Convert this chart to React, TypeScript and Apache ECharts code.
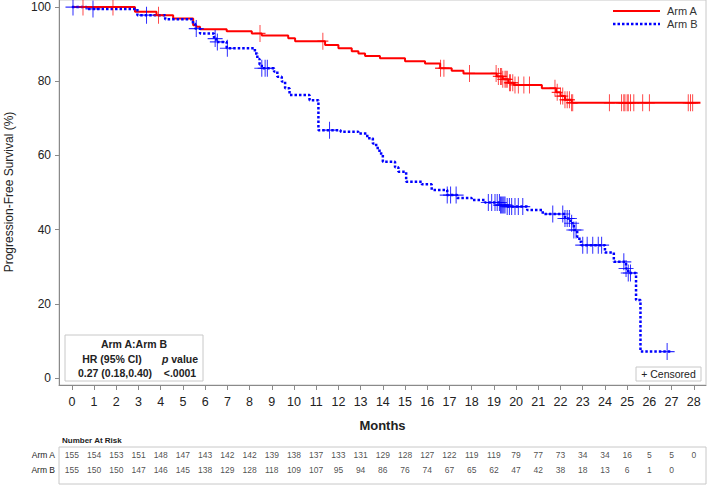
import React, { useEffect, useRef } from "react";
import * as echarts from "echarts";

const monthTicks = [0, 1, 2, 3, 4, 5, 6, 7, 8, 9, 10, 11, 12, 13, 14, 15, 16, 17, 18, 19, 20, 21, 22, 23, 24, 25, 26, 27, 28];
const survivalTicks = [0, 20, 40, 60, 80, 100];

// [month, survival %] — value holds from month until the next change
const armASteps: [number, number][] = [
  [0, 100], [2.84, 98.7], [3.81, 97.8], [4.56, 96.9], [5.46, 95.1], [5.6, 94.7], [5.77, 94.0],
  [6.97, 93.5], [8.1, 92.9], [8.55, 92.3], [9.74, 91.6], [10.05, 90.8], [11.4, 89.8], [12.0, 88.9],
  [12.6, 88.1], [12.9, 87.5], [13.2, 86.8], [13.87, 86.2], [15.0, 85.4], [15.9, 84.8], [16.58, 83.5],
  [17.1, 82.8], [17.63, 82.1], [19.13, 81.3], [19.4, 80.5], [19.65, 79.6], [19.9, 79.0], [21.16, 78.1],
  [21.8, 77.0], [22.0, 76.0], [22.2, 75.0], [22.5, 74.2], [28.3, 74.2],
];
const armBSteps: [number, number][] = [
  [0, 100], [0.66, 99.5], [2.95, 97.8], [4.2, 96.7], [5.45, 95.5], [5.55, 94.2], [5.77, 92.9],
  [6.4, 91.5], [6.5, 90.6], [6.97, 88.9], [8.24, 87.5], [8.35, 86.0], [8.45, 84.5], [8.55, 83.5],
  [9.1, 82.6], [9.25, 81.2], [9.45, 79.9], [9.6, 78.1], [9.8, 76.3], [10.7, 74.9], [11.1, 66.8],
  [12.1, 66.4], [12.9, 65.9], [13.3, 64.6], [13.55, 63.2], [13.7, 62.0], [13.85, 60.5], [14.0, 58.3],
  [14.55, 56.8], [14.7, 55.6], [15.05, 52.9], [15.75, 52.2], [16.2, 50.7], [16.9, 49.3], [17.35, 48.5],
  [18.0, 48.0], [18.6, 47.3], [19.3, 46.6], [19.6, 46.2], [20.5, 45.3], [21.2, 44.2], [22.2, 43.0],
  [22.45, 41.7], [22.6, 39.9], [22.75, 38.1], [22.85, 36.7], [22.95, 35.8], [24.0, 33.8], [24.4, 31.3],
  [24.95, 29.5], [25.05, 28.3], [25.4, 21.0], [25.6, 7.1], [27.0, 7.1],
];

const armACensored = [
  0.5, 1.85, 3.9, 8.47, 11.3, 16.6, 16.75, 17.9, 19.1, 19.2, 19.3, 19.35, 19.4, 19.5, 19.55, 19.6,
  19.7, 19.75, 19.85, 19.95, 20.1, 20.35, 20.6, 21.75, 21.85, 22.0, 22.1, 22.2, 22.3, 22.4, 22.5,
  22.55, 24.2, 24.75, 24.85, 24.9, 25.0, 25.05, 25.15, 25.3, 25.7, 26.0, 27.75, 27.85, 27.95,
];
const armBCensored = [
  0.05, 0.95, 3.36, 5.6, 6.45, 6.55, 7.0, 8.55, 8.7, 8.8, 11.6, 16.9, 17.05, 17.3, 18.75, 18.9,
  19.05, 19.15, 19.25, 19.3, 19.35, 19.4, 19.45, 19.5, 19.6, 19.7, 19.8, 19.95, 20.1, 20.3, 21.65,
  22.1, 22.2, 22.3, 22.4, 22.5, 22.6, 22.7, 23.0, 23.2, 23.45, 23.7, 23.85, 24.85, 24.95, 25.05,
  25.15, 26.8,
];

const armARisk = [155, 154, 153, 151, 148, 147, 143, 142, 142, 139, 138, 137, 133, 131, 129, 128, 127, 122, 119, 119, 79, 77, 73, 34, 34, 16, 5, 5, 0];
const armBRisk = [155, 150, 150, 147, 146, 145, 138, 129, 128, 118, 109, 107, 95, 94, 86, 76, 74, 67, 65, 62, 47, 42, 38, 18, 13, 6, 1, 0];

const FONT = "Liberation Sans, Arial, sans-serif";
const RED = "#ff0000";
const BLUE = "#0000ff";

function valueAt(steps: [number, number][], t: number): number {
  let v = steps[0][1];
  for (const [m, s] of steps) {
    if (m <= t + 1e-9) v = s;
    else break;
  }
  return v;
}

export default function App() {
  const ref = useRef<HTMLDivElement>(null);
  useEffect(() => {
    if (!ref.current) return;
    const chart = echarts.init(ref.current, undefined, { renderer: "svg" });
    const crossSymbol = "path://M6,0L6,14M0,7L12,7";
    const option: any = {
      animation: false,
      grid: [
        { left: 59, right: 3, top: 0, height: 385, show: true, borderColor: "#c8c8c8", borderWidth: 1 },
        { left: 59, right: 3, top: 447, height: 31 },
      ],
      xAxis: [
        {
          type: "value",
          gridIndex: 0,
          min: -0.58,
          max: 28.55,
          axisLine: { show: true, onZero: false, lineStyle: { color: "#8a8a8a" } },
          axisTick: { show: true, customValues: monthTicks, length: 5, lineStyle: { color: "#8a8a8a" } },
          axisLabel: { customValues: monthTicks, fontSize: 12.5, color: "#222", margin: 10, fontFamily: FONT },
          splitLine: { show: false },
          name: "Months",
          nameLocation: "middle",
          nameGap: 34,
          nameTextStyle: { fontWeight: "bold", fontSize: 13, color: "#222", fontFamily: FONT },
        },
        { type: "value", gridIndex: 1, min: -0.58, max: 28.55, show: false },
      ],
      yAxis: [
        {
          type: "value",
          gridIndex: 0,
          min: -1.9,
          max: 101.9,
          axisLine: { show: true, onZero: false, lineStyle: { color: "#8a8a8a" } },
          axisTick: { show: true, customValues: survivalTicks, length: 4, lineStyle: { color: "#8a8a8a" } },
          axisLabel: { customValues: survivalTicks, fontSize: 12, color: "#222", margin: 8, fontFamily: FONT },
          splitLine: { show: false },
        },
        {
          type: "category",
          gridIndex: 1,
          data: ["Arm A", "Arm B"],
          inverse: true,
          axisLine: { show: false },
          axisTick: { show: false },
          axisLabel: { fontSize: 8.5, color: "#222", margin: 4, fontFamily: FONT },
        },
      ],
      series: [
        {
          type: "line",
          name: "Arm A",
          xAxisIndex: 0,
          yAxisIndex: 0,
          step: "end",
          symbol: "none",
          data: armASteps,
          lineStyle: { color: RED, width: 2 },
          z: 3,
          silent: true,
        },
        {
          type: "line",
          name: "Arm B",
          xAxisIndex: 0,
          yAxisIndex: 0,
          step: "end",
          symbol: "none",
          data: armBSteps,
          lineStyle: { color: BLUE, width: 2.5, type: [2.5, 2] },
          z: 3,
          silent: true,
        },
        {
          type: "scatter",
          xAxisIndex: 0,
          yAxisIndex: 0,
          symbol: crossSymbol,
          symbolSize: [11, 17],
          data: armACensored.map((t) => [t, valueAt(armASteps, t)]),
          itemStyle: { color: "transparent", borderColor: RED, borderWidth: 1.1 },
          z: 4,
          silent: true,
        },
        {
          type: "scatter",
          xAxisIndex: 0,
          yAxisIndex: 0,
          symbol: crossSymbol,
          symbolSize: [15, 17],
          data: armBCensored.map((t) => [t, valueAt(armBSteps, t)]),
          itemStyle: { color: "transparent", borderColor: BLUE, borderWidth: 1.1 },
          z: 4,
          silent: true,
        },
        {
          type: "scatter",
          xAxisIndex: 1,
          yAxisIndex: 1,
          symbolSize: 1,
          itemStyle: { color: "transparent" },
          data: armARisk.map((n, i) => [monthTicks[i], "Arm A", n]),
          label: {
            show: true,
            position: "inside",
            formatter: (p: any) => String(p.value[2]),
            fontSize: 8.5,
            color: "#222",
            fontFamily: FONT,
          },
          silent: true,
        },
        {
          type: "scatter",
          xAxisIndex: 1,
          yAxisIndex: 1,
          symbolSize: 1,
          itemStyle: { color: "transparent" },
          data: armBRisk.map((n, i) => [monthTicks[i], "Arm B", n]),
          label: {
            show: true,
            position: "inside",
            formatter: (p: any) => String(p.value[2]),
            fontSize: 8.5,
            color: "#222",
            fontFamily: FONT,
          },
          silent: true,
        },
      ],
      graphic: [
        {
          type: "text",
          x: 9,
          y: 192,
          rotation: Math.PI / 2,
          style: {
            text: "Progression-Free Survival (%)",
            fontSize: 12,
            fontFamily: FONT,
            fill: "#222",
            align: "center",
            verticalAlign: "middle",
          },
        },
        { type: "line", shape: { x1: 613, y1: 11, x2: 660, y2: 11 }, style: { stroke: RED, lineWidth: 2 } },
        { type: "text", x: 667, y: 11, style: { text: "Arm A", fontSize: 11, fontFamily: FONT, fill: "#333", verticalAlign: "middle" } },
        { type: "line", shape: { x1: 613, y1: 24, x2: 660, y2: 24 }, style: { stroke: BLUE, lineWidth: 2.5, lineDash: [2.5, 2] } },
        { type: "text", x: 667, y: 24, style: { text: "Arm B", fontSize: 11, fontFamily: FONT, fill: "#333", verticalAlign: "middle" } },
        { type: "rect", shape: { x: 65, y: 335, width: 138, height: 46 }, style: { fill: "#fff", stroke: "#c8c8c8", lineWidth: 1 }, z: 10 },
        { type: "text", x: 134, y: 344, z: 11, style: { text: "Arm A:Arm B", fontSize: 10.5, fontWeight: "bold", fontFamily: FONT, fill: "#222", align: "center", verticalAlign: "middle" } },
        { type: "text", x: 112, y: 359, z: 11, style: { text: "HR (95% CI)", fontSize: 10.5, fontWeight: "bold", fontFamily: FONT, fill: "#222", align: "center", verticalAlign: "middle" } },
        {
          type: "text",
          x: 180,
          y: 359,
          z: 11,
          style: {
            text: "{i|p} value",
            fontSize: 10.5,
            fontWeight: "bold",
            fontFamily: FONT,
            fill: "#222",
            align: "center",
            verticalAlign: "middle",
            rich: { i: { fontStyle: "italic", fontWeight: "bold", fontSize: 10.5, fontFamily: FONT, fill: "#222" } },
          },
        },
        { type: "text", x: 115, y: 373, z: 11, style: { text: "0.27 (0.18,0.40)", fontSize: 10.5, fontWeight: "bold", fontFamily: FONT, fill: "#222", align: "center", verticalAlign: "middle" } },
        { type: "text", x: 180, y: 373, z: 11, style: { text: "<.0001", fontSize: 10.5, fontWeight: "bold", fontFamily: FONT, fill: "#222", align: "center", verticalAlign: "middle" } },
        { type: "rect", shape: { x: 636, y: 367, width: 65, height: 14 }, style: { fill: "#fff", stroke: "#c8c8c8", lineWidth: 1 }, z: 10 },
        { type: "text", x: 668.5, y: 374, z: 11, style: { text: "+ Censored", fontSize: 10.5, fontFamily: FONT, fill: "#222", align: "center", verticalAlign: "middle" } },
        { type: "text", x: 62, y: 440, style: { text: "Number At Risk", fontSize: 8, fontWeight: "bold", fontFamily: FONT, fill: "#222", verticalAlign: "middle" } },
        { type: "rect", shape: { x: 59, y: 447, width: 647, height: 37 }, style: { fill: "none", stroke: "#c8c8c8", lineWidth: 1 } },
      ],
    };
    chart.setOption(option);
    return () => chart.dispose();
  }, []);
  return <div ref={ref} style={{ position: "fixed", left: 0, top: 0, width: 709, height: 486, background: "#fff" }} />;
}
